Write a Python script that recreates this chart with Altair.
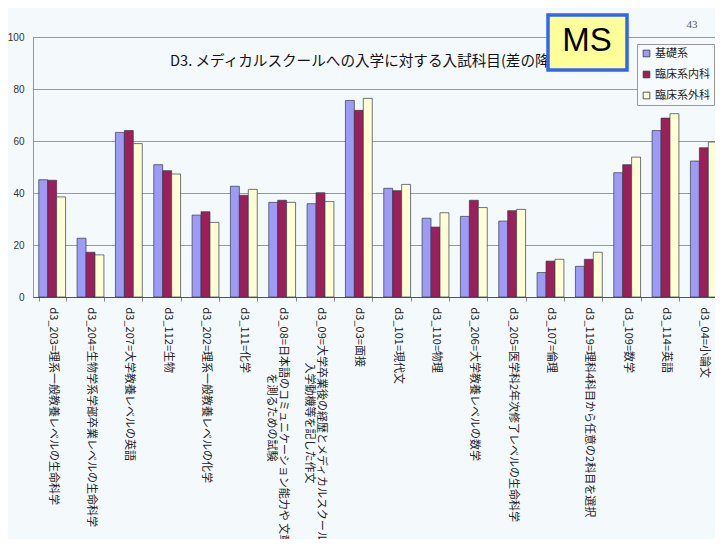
import altair as alt
import pandas as pd

categories = [
    "d3_203=理系一般教養レベルの生命科学",
    "d3_204=生物学系学部卒業レベルの生命科学",
    "d3_207=大学教養レベルの英語",
    "d3_112=生物",
    "d3_202=理系一般教養レベルの化学",
    "d3_111=化学",
    "d3_08=日本語のコミュニケーション能力や 文章力|\u200b\u2003\u2003\u2003\u2003\u2003\u2003を測るための試験",
    "d3_09=大学卒業後の経歴とメディカルスクールへ|\u200b\u2003\u2003\u2003\u2003\u2003入学動機等を記した作文",
    "d3_03=面接",
    "d3_101=現代文",
    "d3_110=物理",
    "d3_206=大学教養レベルの数学",
    "d3_205=医学科2年次修了レベルの生命科学",
    "d3_107=倫理",
    "d3_119=理科4科目から任意の2科目を選択",
    "d3_109=数学",
    "d3_114=英語",
    "d3_04=小論文",
]
series_names = ["基礎系", "臨床系内科", "臨床系外科"]
kiso = [45.1, 22.6, 63.3, 50.9, 31.5, 42.6, 36.4, 35.9, 75.6, 41.8, 30.3, 31.0, 29.2, 9.4, 11.8, 47.8, 64.0, 52.3]
naika = [44.9, 17.2, 64.0, 48.6, 32.8, 39.1, 37.2, 40.1, 71.8, 40.9, 26.9, 37.2, 33.2, 13.8, 14.5, 50.9, 68.8, 57.4]
geka = [38.5, 16.2, 59.0, 47.3, 28.7, 41.4, 36.4, 36.7, 76.4, 43.3, 32.4, 34.4, 33.7, 14.5, 17.2, 53.8, 70.5, 59.6]
colors = ["#9c9cf6", "#9b1f58", "#ffffd6"]
title_text = "D3. メディカルスクールへの入学に対する入試科目(差の降順)"
badge_text = "MS"
page_no = "43"

rows = []
for name, vals in zip(series_names, [kiso, naika, geka]):
    for c, v in zip(categories, vals):
        rows.append({"cat": c, "series": name, "value": v})
df = pd.DataFrame(rows)

jp = "Noto Sans CJK JP"

bars = alt.Chart(df).mark_bar(stroke="#3a3a4a", strokeWidth=0.7).encode(
    x=alt.X(
        "cat:N",
        sort=categories,
        scale=alt.Scale(paddingInner=0.3, paddingOuter=0.15),
        axis=alt.Axis(
            title=None,
            labelAngle=90,
            labelFont=jp,
            labelFontSize=11,
            labelColor="#222",
            labelLimit=400,
            labelPadding=6,
            labelLineHeight=12,
            labelExpr="split(datum.label, '|')",
            tickBand="extent",
            tickSize=4,
            tickColor="#888",
            domainColor="#555",
            grid=False,
        ),
    ),
    xOffset=alt.XOffset("series:N", sort=series_names),
    y=alt.Y(
        "value:Q",
        scale=alt.Scale(domain=[0, 100]),
        axis=alt.Axis(
            title=None,
            values=[0, 20, 40, 60, 80, 100],
            ticks=False,
            labelFont="Liberation Sans",
            labelFontSize=10,
            labelColor="#333",
            labelPadding=9,
            domainColor="#999",
            gridColor="#9a9a9a",
            gridWidth=1,
        ),
    ),
    color=alt.Color(
        "series:N",
        sort=series_names,
        scale=alt.Scale(domain=series_names, range=colors),
        legend=alt.Legend(
            title=None,
            orient="none",
            legendX=604,
            legendY=7,
            fillColor="#f8fbfd",
            strokeColor="#999",
            padding=4,
            symbolType="square",
            symbolSize=45,
            symbolStrokeColor="#333",
            symbolStrokeWidth=0.8,
            labelFont=jp,
            labelFontSize=11,
            labelColor="#222",
            rowPadding=9,
            labelOffset=3,
        ),
    ),
)

one = alt.Data(values=[{}])

title = alt.Chart(one).mark_text(
    text=title_text, font=jp, fontSize=14.6, align="left", baseline="middle", color="#111"
).encode(x=alt.value(137), y=alt.value(25))

badge_box = alt.Chart(one).mark_rect(
    fill="#ffff99", stroke="#3366ee", strokeWidth=3.5
).encode(x=alt.value(515), x2=alt.value(594), y=alt.value(-22), y2=alt.value(33))

badge = alt.Chart(one).mark_text(
    text=badge_text, font="Liberation Sans", fontSize=33, align="center", baseline="alphabetic", color="#000"
).encode(x=alt.value(554), y=alt.value(14))

pno = alt.Chart(one).mark_text(
    text=page_no, font="Liberation Serif", fontSize=11, align="center", baseline="alphabetic", color="#555"
).encode(x=alt.value(659), y=alt.value(-9))

chart = alt.layer(bars, title, badge_box, badge, pno).properties(
    width=690,
    height=260,
    background="#f4f9fc",
    autosize=alt.AutoSizeParams(type="none"),
    padding={"left": 25, "top": 29, "right": -8, "bottom": 242},
).configure_view(stroke="#9a9a9a")

chart.save("out.html", embed_options={"renderer": "svg", "actions": False})
